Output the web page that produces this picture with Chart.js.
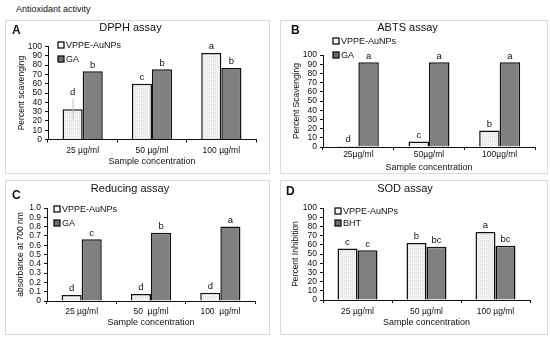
<!DOCTYPE html>
<html><head><meta charset="utf-8">
<script src="https://cdn.jsdelivr.net/npm/chart.js@4.4.1/dist/chart.umd.min.js"></script>
<style>
body{margin:0;background:#fff;width:550px;height:343px;overflow:hidden;position:relative;font-family:"Liberation Sans",Arial,sans-serif;}
.box{position:absolute;border:1px solid #dadada;box-sizing:border-box;}
canvas{position:absolute;}
.lbl{position:absolute;font-weight:bold;font-size:12px;color:#111;line-height:12px;}
#main{position:absolute;left:16px;top:4px;font-size:9px;line-height:10px;color:#111;}
</style></head><body>
<div id="main">Antioxidant activity</div>
<div class="box" style="left:5px;top:20px;width:265px;height:154px"></div>
<div class="box" style="left:280px;top:20px;width:268px;height:154px"></div>
<div class="box" style="left:5px;top:180px;width:265px;height:155px"></div>
<div class="box" style="left:280px;top:180px;width:268px;height:155px"></div>
<script>
// ---- data ----
const catsA = ['25 µg/ml','50 µg/ml','100 µg/ml'];
const catsB = ['25µg/ml','50µg/ml','100µg/ml'];
const catsC = ['25 µg/ml','50  µg/ml','100  µg/ml'];
const catsD = ['25 µg/ml','50 µg/ml','100 µg/ml'];
const seriesA = ['VPPE-AuNPs','GA'];
const seriesB = ['VPPE-AuNPs','GA'];
const seriesC = ['VPPE-AuNPs','GA'];
const seriesD = ['VPPE-AuNPs','BHT'];
const vppeA = [32.5, 60, 93];
const gaA   = [73.5, 75.5, 77];
const errVppeA = [11, 0, 0];
const lettersVppeA = ['d','c','a'];
const lettersGaA   = ['b','b','b'];
const vppeB = [1, 6, 18];
const gaB   = [92, 92, 92];
const lettersVppeB = ['d','c','b'];
const lettersGaB   = ['a','a','a'];
const vppeC = [0.065, 0.075, 0.09];
const gaC   = [0.665, 0.735, 0.8];
const lettersVppeC = ['d','d','d'];
const lettersGaC   = ['c','b','a'];
const vppeD = [56, 62, 74];
const bhtD  = [54, 58, 59];
const lettersVppeD = ['c','b','a'];
const lettersBhtD  = ['c','bc','bc'];
const yTicksPct = {min:0, max:100, step:10};
const yTicksAbs = {min:0, max:1, step:0.1};

const FF = '"Liberation Sans", Arial, sans-serif';

function makePattern(){
  const p = document.createElement('canvas'); p.width = 2; p.height = 2;
  const g = p.getContext('2d');
  g.fillStyle = '#f3f3f3'; g.fillRect(0,0,2,2);
  g.fillStyle = '#dddddd'; g.fillRect(0,0,1,1);
  return g.createPattern(p,'repeat');
}
const lightPat = makePattern();
const darkPat = '#808080';

const annot = {
  id:'annot',
  afterDatasetsDraw(chart, args, opts){
    const ctx = chart.ctx, yS = chart.scales.y;
    ctx.save();
    ctx.font = '9.5px ' + FF; ctx.fillStyle = '#111'; ctx.textAlign = 'center'; ctx.textBaseline = 'bottom';
    chart.data.datasets.forEach((ds, di) => {
      const meta = chart.getDatasetMeta(di);
      meta.data.forEach((bar, i) => {
        let top = bar.y;
        const e = ds.err ? ds.err[i] : 0;
        if (e) {
          const y1 = yS.getPixelForValue(ds.data[i] + e), y2 = yS.getPixelForValue(ds.data[i] - e);
          ctx.strokeStyle = '#bdbdbd'; ctx.lineWidth = 1;
          ctx.beginPath(); ctx.moveTo(bar.x + 0.5, y1); ctx.lineTo(bar.x + 0.5, y2); ctx.stroke();
          top = Math.min(top, y1);
        }
        ctx.fillText(ds.letters[i], bar.x, top - 1.5);
      });
    });
    // legend
    ctx.textAlign = 'left'; ctx.textBaseline = 'middle';
    ctx.font = '9px ' + FF;
    chart.data.datasets.forEach((ds, di) => {
      const x = opts.lx, y = opts.rows[di];
      ctx.fillStyle = di === 0 ? '#f6f6f6' : '#6e6e6e';
      ctx.fillRect(x, y - 3, 6, 6);
      ctx.strokeStyle = '#111'; ctx.lineWidth = 1.3;
      ctx.strokeRect(x, y - 3, 6, 6);
      ctx.fillStyle = '#111';
      ctx.fillText(ds.label, x + 8, y + 0.5);
    });
    ctx.restore();
  }
};

function panel(spec){
  const [bx, by, bw, bh] = spec.box;
  const cv = document.createElement('canvas');
  cv.width = bw; cv.height = bh;
  cv.style.left = bx + 'px'; cv.style.top = by + 'px';
  cv.style.width = bw + 'px'; cv.style.height = bh + 'px';
  document.body.appendChild(cv);
  const [L, R, T, B] = spec.area;
  const lhT = 11 * 1.2, lhX = 9 * 1.2, lhY = 8.5 * 1.2, lhTick = 8.5 * 1.2;
  const titlePadTop = spec.titleY - by - lhT / 2;
  const titlePadBottom = (T - by) - titlePadTop - lhT;
  const yW = L - bx;
  const xH = spec.xTitleY + lhX / 2 - B;
  const padBottom = by + bh - B - xH;
  const padRight = bx + bw - R;
  const xTickPad = spec.xTickY - lhTick / 2 - B - 3;
  const yTitlePad = spec.yTitleX - bx - lhY / 2;
  const axisCol = '#111';
  new Chart(cv, {
    type: 'bar',
    data: {
      labels: spec.cats,
      datasets: [
        {label: spec.names[0], data: spec.v1, backgroundColor: lightPat, borderColor: '#111', borderWidth: 1.5, letters: spec.l1, err: spec.e1},
        {label: spec.names[1], data: spec.v2, backgroundColor: darkPat, borderColor: '#111', borderWidth: 1.5, letters: spec.l2}
      ]
    },
    options: {
      responsive: false, animation: false, devicePixelRatio: 1,
      layout: {padding: {left: 0, right: padRight, top: 0, bottom: padBottom}},
      datasets: {bar: {categoryPercentage: 0.58, barPercentage: 1}},
      plugins: {
        legend: {display: false}, tooltip: {enabled: false},
        title: {display: true, text: spec.title, color: '#111', font: {size: 11, family: FF, weight: 'normal', lineHeight: 1.2}, padding: {top: titlePadTop, bottom: titlePadBottom}},
        annot: {lx: spec.lx - bx, rows: spec.rows.map(r => r - by)}
      },
      scales: {
        x: {
          grid: {drawOnChartArea: false, tickLength: 3, color: axisCol},
          border: {color: axisCol, width: 1},
          ticks: {font: {size: 8.5, family: FF, lineHeight: 1.2}, color: '#111', padding: xTickPad, maxRotation: 0, autoSkip: false},
          title: {display: true, text: 'Sample concentration', color: '#111', font: {size: 9, family: FF, lineHeight: 1.2}, padding: {top: 0, bottom: 0}},
          afterFit(s){ s.height = xH; }
        },
        y: {
          min: spec.yt.min, max: spec.yt.max,
          grid: {drawOnChartArea: false, tickLength: 3, color: axisCol},
          border: {color: axisCol, width: 1},
          ticks: {stepSize: spec.yt.step, autoSkip: false, font: {size: 8.5, family: FF, lineHeight: 1.2}, color: '#111', padding: 3},
          title: {display: true, text: spec.yTitle, color: '#111', font: {size: 8.5, family: FF, lineHeight: 1.2}, padding: {top: yTitlePad, bottom: 0}},
          afterFit(s){ s.width = yW; }
        }
      }
    },
    plugins: [annot]
  });
  const d = document.createElement('div');
  d.className = 'lbl'; d.textContent = spec.letter;
  d.style.left = spec.letterPos[0] + 'px'; d.style.top = (spec.letterPos[1] - 6) + 'px';
  document.body.appendChild(d);
}

panel({box:[5,20,265,154], area:[48,256,46.5,139.5], titleY:28, yTitleX:22, xTickY:151, xTitleY:162,
  cats:catsA, names:seriesA, v1:vppeA, v2:gaA, l1:lettersVppeA, l2:lettersGaA, e1:errVppeA,
  title:'DPPH assay', yTitle:'Percent scavenging', yt:yTicksPct, lx:58, rows:[45,59], letter:'A', letterPos:[12,30]});
panel({box:[280,20,268,154], area:[323,535,55,147], titleY:28, yTitleX:297, xTickY:155, xTitleY:168,
  cats:catsB, names:seriesB, v1:vppeB, v2:gaB, l1:lettersVppeB, l2:lettersGaB,
  title:'ABTS assay', yTitle:'Percent Scavenging', yt:yTicksPct, lx:333, rows:[41,55], letter:'B', letterPos:[291,30]});
panel({box:[5,180,265,155], area:[47,255,208,301], titleY:189, yTitleX:21, xTickY:312, xTitleY:323,
  cats:catsC, names:seriesC, v1:vppeC, v2:gaC, l1:lettersVppeC, l2:lettersGaC,
  title:'Reducing assay', yTitle:'absorbance at 700 nm', yt:yTicksAbs, lx:54, rows:[209,223], letter:'C', letterPos:[12,195]});
panel({box:[280,180,268,155], area:[323,530,208,300], titleY:189, yTitleX:296, xTickY:312, xTitleY:323,
  cats:catsD, names:seriesD, v1:vppeD, v2:bhtD, l1:lettersVppeD, l2:lettersBhtD,
  title:'SOD assay', yTitle:'Percent Inhibition', yt:yTicksPct, lx:335, rows:[211,223], letter:'D', letterPos:[286,191]});
</script>
</body></html>
